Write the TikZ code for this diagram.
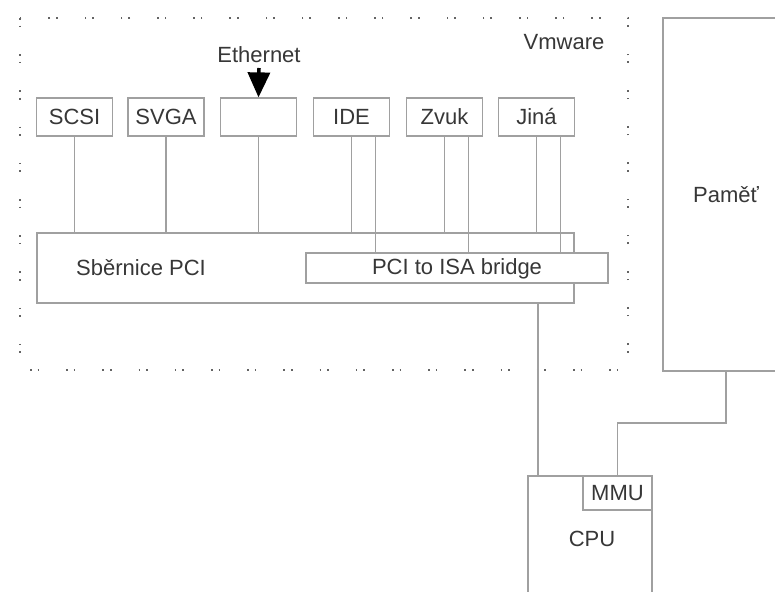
\documentclass[tikz,border=0pt]{standalone}
\usepackage{fontspec}
\setmainfont{Liberation Sans}
\usetikzlibrary{arrows.meta,calc}
\definecolor{linegray}{RGB}{160,160,160}
\definecolor{txtgray}{RGB}{55,55,55}
\definecolor{dotgray}{RGB}{100,100,100}
\begin{document}
\begin{tikzpicture}[x=1pt,y=-1pt,
  font=\fontsize{22}{26}\selectfont,
  box/.style={draw=linegray, line width=1.2pt, inner sep=0pt, fill=white, text=txtgray},
  card/.style={box, minimum width=76pt, minimum height=38pt},
  wire/.style={draw=linegray, line width=1.2pt},
  lbl/.style={inner sep=0pt, anchor=base, text=txtgray}]
\useasboundingbox (0,0) rectangle (775,591);
\fill[white] (0,0) rectangle (775,591);
% Vmware frame
\draw[dotgray, line width=1.6pt, dash pattern=on 1.6pt off 6pt on 1.6pt off 27pt] (20,18) rectangle (628,370);
\node[lbl] (vmw) at (564,50) {Vmware};
% cards
\node[card] (scsi) at (74.5,117) {SCSI};
\node[card] (svga) at (166,117) {SVGA};
\node[card] (eth)  at (258.5,117) {};
\node[card] (ide)  at (351.5,117) {IDE};
\node[card] (zvuk) at (444.5,117) {Zvuk};
\node[card] (jina) at (536.5,117) {Jiná};
% Ethernet
\node[lbl] (ethl) at (259,63) {Ethernet};
\coordinate (ethtop) at (259,68);
\draw[-{Triangle[width=22pt,length=25pt]}, line width=3.5pt, black] (ethtop) -- (eth.north);
% PCI bus
\node[box, minimum width=537pt, minimum height=70pt] (pci) at (305.5,268) {};
\node[lbl] (pcil) at (141,275) {Sběrnice PCI};
\foreach \c in {scsi,svga,eth,ide,zvuk,jina}
  \draw[wire] (\c.south) -- (\c.south |- pci.north);
% bridge
\node[box, minimum width=302pt, minimum height=30pt, text height=12pt, text depth=0pt] (bridge) at (457,268) {PCI to ISA bridge};
\foreach \c in {ide,zvuk,jina}{
  \coordinate (\c-b) at ($(\c.south)+(24,0)$);
  \draw[wire] (\c-b) -- (\c-b |- bridge.north);
}
% memory
\node[box, minimum width=126pt, minimum height=353pt] (pamet) at (726,194.5) {Paměť};
% CPU
\node[box, minimum width=124pt, minimum height=130pt] (cpu) at (590,541) {};
\node[lbl] (cpul) at (592,546) {CPU};
\node[box, minimum width=69pt, minimum height=34pt] (mmu) at (617.5,493) {MMU};
\coordinate (cpuin) at (538,476);
\draw[wire] (pci.south -| cpuin) -- (cpuin);
\coordinate (bend) at (617.5,423);
\draw[wire] (pamet.south) |- (bend) -- (mmu.north);
\end{tikzpicture}
\end{document}
